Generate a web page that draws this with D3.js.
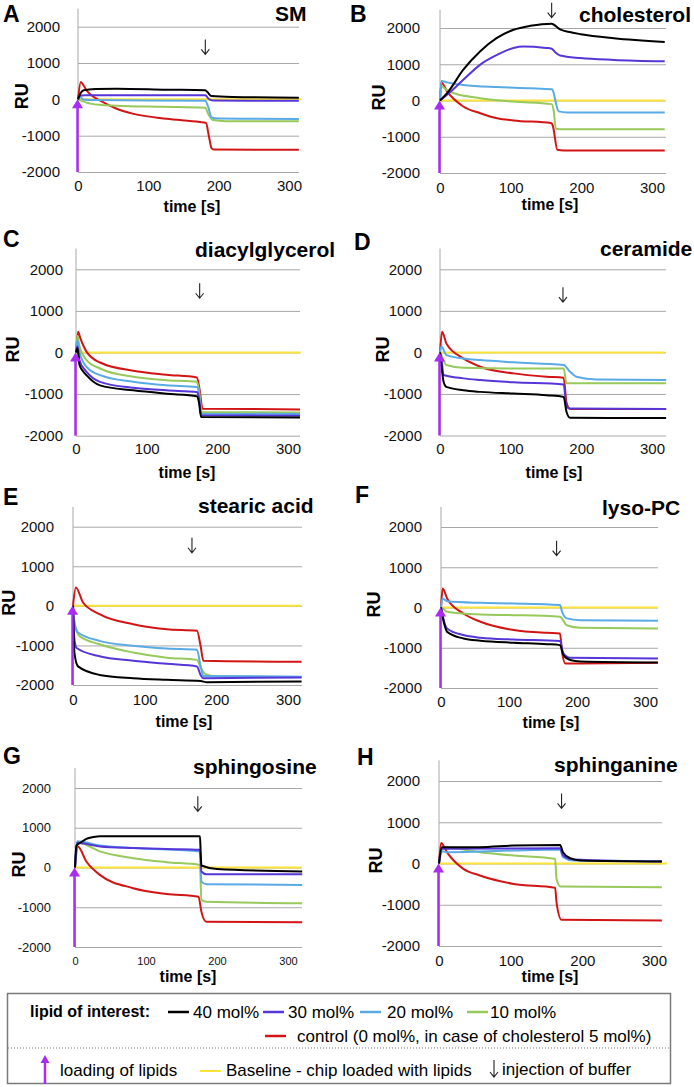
<!DOCTYPE html>
<html>
<head>
<meta charset="utf-8">
<script src="https://cdn.jsdelivr.net/npm/d3@7"></script>
<style>
  body { margin: 0; background: #fff; }
  svg text { font-family: "Liberation Sans", Arial, sans-serif; }
</style>
</head>
<body>
<svg id="chart" width="694" height="1087"></svg>
<script>
// ---- data (time [s], RU) ----
const xTicks = [0, 100, 200, 300];
const yTicks = [-2000, -1000, 0, 1000, 2000];
const panelLetters = ["A", "B", "C", "D", "E", "F", "G", "H"];
const lipidNames = ["SM", "cholesterol", "diacylglycerol", "ceramide", "stearic acid", "lyso-PC", "sphingosine", "sphinganine"];
const injectionTimes = [181, 158, 175, 174, 166, 170, 173, 171];
const injectionArrowTop = [1650, 2700, 1665, 1570, 1720, 1660, 1790, 1700];
const baselineTimes = [0, 318];
const baselineValues = [0, 0];
const seriesLabels = ["40 mol%", "30 mol%", "20 mol%", "10 mol%", "control (0 mol%, in case of cholesterol 5 mol%)"];

// A  SM
const sm40 = [[0,0],[4,180],[8,250],[25,285],[55,295],[126,267],[181,250],[184,200],[190,90],[220,65],[314,45]];
const sm30 = [[0,0],[3,100],[10,110],[181,110],[186,10],[192,-30],[314,-40]];
const sm20 = [[0,0],[3,60],[8,-5],[20,-20],[181,-40],[185,-200],[190,-500],[200,-530],[314,-540]];
const sm10 = [[0,0],[5,-40],[12,-90],[30,-150],[55,-175],[120,-205],[181,-230],[185,-400],[192,-570],[210,-600],[314,-605]];
const sm0  = [[0,0],[4,480],[8,380],[12,250],[20,100],[31,-30],[55,-260],[79,-400],[126,-535],[173,-625],[182,-650],[186,-1000],[190,-1350],[193,-1380],[314,-1390]];
// B  cholesterol
const chol40 = [[0,0],[10,200],[33,850],[57,1360],[80,1720],[104,1950],[128,2060],[158,2120],[162,2080],[170,1960],[185,1880],[199,1830],[246,1720],[318,1615]];
const chol30 = [[0,0],[10,160],[33,570],[57,990],[81,1260],[104,1450],[118,1490],[150,1450],[158,1430],[163,1330],[170,1240],[199,1170],[246,1120],[318,1080]];
const chol20 = [[0,0],[2,540],[10,500],[33,430],[81,370],[128,340],[158,310],[161,200],[163,20],[168,-300],[180,-330],[318,-330]];
const chol10 = [[0,0],[2,390],[10,280],[20,200],[57,65],[104,-30],[158,-100],[161,-300],[164,-780],[170,-790],[318,-790]];
const chol0  = [[0,0],[2,500],[10,250],[33,-165],[57,-350],[81,-490],[104,-550],[158,-625],[160,-720],[166,-1360],[175,-1380],[318,-1380]];
// C  diacylglycerol
const dag40 = [[0,0],[2,100],[5,-300],[10,-450],[15,-550],[34,-790],[81,-910],[128,-990],[171,-1050],[174,-1200],[177,-1550],[317,-1560]];
const dag30 = [[0,0],[2,150],[5,-200],[15,-465],[34,-705],[81,-850],[128,-910],[171,-950],[174,-1100],[177,-1510],[317,-1520]];
const dag20 = [[0,0],[2,300],[5,0],[15,-345],[34,-545],[81,-705],[128,-790],[171,-830],[174,-1000],[177,-1470],[317,-1480]];
const dag10 = [[0,0],[2,400],[5,150],[15,-185],[34,-385],[81,-585],[128,-665],[171,-705],[174,-900],[178,-1430],[317,-1440]];
const dag0  = [[0,0],[3,500],[6,350],[15,15],[34,-240],[81,-440],[128,-535],[171,-600],[175,-900],[179,-1350],[317,-1370]];
// D  ceramide
const cer40 = [[0,0],[2,-300],[5,-700],[9,-830],[33,-910],[57,-950],[104,-990],[151,-1030],[175,-1070],[179,-1430],[184,-1575],[320,-1580]];
const cer30 = [[0,0],[2,-145],[5,-545],[33,-625],[57,-665],[104,-720],[175,-770],[179,-1310],[184,-1350],[320,-1360]];
const cer20 = [[0,0],[2,140],[9,-65],[33,-145],[57,-185],[104,-240],[175,-305],[184,-465],[193,-585],[222,-650],[320,-665]];
const cer10 = [[0,0],[2,-65],[9,-305],[33,-370],[104,-385],[175,-385],[179,-745],[320,-745]];
const cer0  = [[0,0],[3,500],[9,215],[33,-145],[57,-345],[104,-505],[151,-585],[175,-610],[179,-1200],[184,-1360],[320,-1360]];
// E  stearic acid
const sta40 = [[0,0],[2,-1190],[7,-1530],[37,-1745],[84,-1830],[131,-1870],[178,-1900],[187,-1930],[319,-1910]];
const sta30 = [[0,0],[2,-850],[5,-1065],[37,-1275],[84,-1385],[131,-1465],[173,-1530],[178,-1745],[182,-1830],[319,-1810]];
const sta20 = [[0,0],[2,-420],[7,-675],[37,-885],[84,-1010],[131,-1080],[173,-1110],[178,-1515],[182,-1770],[319,-1790]];
const sta10 = [[0,0],[2,-420],[9,-760],[37,-970],[84,-1180],[131,-1310],[173,-1365],[178,-1560],[185,-1725],[200,-1780],[319,-1800]];
const sta0  = [[0,0],[4,465],[14,85],[37,-210],[84,-465],[131,-590],[173,-630],[178,-1010],[182,-1390],[319,-1415]];
// F  lyso-PC
const lpc40 = [[0,0],[4,-355],[9,-605],[33,-770],[58,-825],[107,-875],[156,-910],[175,-935],[180,-1180],[190,-1305],[205,-1340],[319,-1365]];
const lpc30 = [[0,0],[4,-315],[9,-520],[33,-685],[58,-750],[107,-795],[175,-835],[180,-1140],[190,-1250],[319,-1265]];
const lpc20 = [[0,0],[2,225],[9,155],[58,115],[107,100],[175,60],[178,-105],[185,-270],[205,-315],[319,-330]];
const lpc10 = [[0,0],[3,-30],[9,-105],[58,-175],[107,-190],[175,-230],[185,-440],[205,-505],[319,-520]];
const lpc0  = [[0,0],[2.5,470],[9,225],[33,-150],[58,-355],[107,-560],[156,-630],[175,-645],[178,-1100],[183,-1390],[319,-1375]];
// G  sphingosine
const sgo40 = [[0,0],[2,550],[7,615],[16,720],[26,765],[35,785],[176,785],[177,400],[178,50],[200,-35],[320,-100]];
const sgo30 = [[0,0],[3,620],[7,615],[35,530],[82,490],[129,465],[176,445],[178,-100],[185,-170],[320,-170]];
const sgo20 = [[0,0],[3,660],[7,655],[35,555],[82,490],[176,405],[178,-355],[185,-420],[320,-440]];
const sgo10 = [[0,0],[3,620],[7,615],[35,405],[82,235],[129,135],[176,65],[178,-815],[185,-860],[320,-900]];
const sgo0  = [[0,0],[4,530],[16,150],[35,-185],[82,-520],[129,-665],[174,-735],[178,-1110],[185,-1365],[320,-1380]];
// H  sphinganine
const sga40 = [[0,0],[4,395],[57,395],[104,435],[169,450],[173,275],[183,130],[197,75],[311,50]];
const sga30 = [[0,0],[4,355],[169,370],[173,195],[187,100],[311,50]];
const sga20 = [[0,0],[3,300],[11,275],[57,290],[104,315],[169,340],[173,155],[187,75],[311,55]];
const sga10 = [[0,0],[6,395],[57,275],[104,195],[162,115],[164,-370],[169,-555],[311,-575]];
const sga0  = [[0,0],[3,500],[11,275],[34,-130],[57,-290],[104,-495],[162,-590],[164,-940],[171,-1365],[311,-1380]];

// series per panel, order: 40, 30, 20, 10, control
const panelSeries = [
  [sm40, sm30, sm20, sm10, sm0],
  [chol40, chol30, chol20, chol10, chol0],
  [dag40, dag30, dag20, dag10, dag0],
  [cer40, cer30, cer20, cer10, cer0],
  [sta40, sta30, sta20, sta10, sta0],
  [lpc40, lpc30, lpc20, lpc10, lpc0],
  [sgo40, sgo30, sgo20, sgo10, sgo0],
  [sga40, sga30, sga20, sga10, sga0]
];

// ---- layout / styles ----
const colors = ["#000000", "#5636d8", "#5aaae6", "#97c95c", "#d21414"];
const yellow = "#fbe33a";
const violet = "#a92cf0";
const gridColor = "#a8a8a8";

// x0 = pixel of t=0, x300 = pixel of t=300, gx = grid end, yHi/yLo = pixel of 2000/-2000
const layout = [
  {x0:78,  x300:289, gx:299, yHi:26.7,  yLo:172,   gap:18, lx:3,   ly:22,  tx:275, ty:21,  ruX:21.5,  timeX:192, timeY:212, tickY:191, xtf:15, ytf:15},
  {x0:440, x300:652, gx:666, yHi:28,    yLo:173,   gap:20, lx:350, ly:22,  tx:579, ty:22,  ruX:378.5, timeX:550, timeY:210, tickY:193, xtf:15, ytf:15},
  {x0:76,  x300:288, gx:300, yHi:269.3, yLo:435.7, gap:13, lx:3,   ly:247, tx:195, ty:257, ruX:12.5,  timeX:187, timeY:478, tickY:454, xtf:15, ytf:15},
  {x0:440, x300:652, gx:666, yHi:269.3, yLo:435.5, gap:18, lx:354, ly:250, tx:600, ty:256, ruX:383,   timeX:554, timeY:478, tickY:454, xtf:15, ytf:15},
  {x0:73,  x300:288, gx:302, yHi:526.7, yLo:685,   gap:19, lx:3,   ly:505, tx:198, ty:513, ruX:9,     timeX:184, timeY:727, tickY:705, xtf:15, ytf:15},
  {x0:441, x300:645, gx:658, yHi:527,   yLo:688,   gap:19, lx:355, ly:503, tx:602, ty:515, ruX:373.5, timeX:551, timeY:728, tickY:707, xtf:15, ytf:15},
  {x0:75,  x300:288, gx:302, yHi:788,   yLo:947,   gap:24, lx:3,   ly:764, tx:193, ty:774, ruX:19,    timeX:188, timeY:982, tickY:965, xtf:11, ytf:13},
  {x0:439, x300:654, gx:662, yHi:781,   yLo:946,   gap:19, lx:357, ly:765, tx:554, ty:772, ruX:376,   timeX:550, timeY:982, tickY:966, xtf:15, ytf:15}
];

const svg = d3.select("#chart");

const line = d3.line()
  .curve(d3.curveMonotoneX);

layout.forEach((L, i) => {
  const x = d3.scaleLinear().domain([0, 300]).range([L.x0, L.x300]);
  const y = d3.scaleLinear().domain([-2000, 2000]).range([L.yLo, L.yHi]);
  const g = svg.append("g");

  // gridlines + y labels
  const yAxis = g.append("g")
    .attr("transform", `translate(${L.x0},0)`)
    .call(d3.axisLeft(y).tickValues(yTicks).tickFormat(d => String(d))
      .tickSize(-(L.gx - L.x0)).tickPadding(L.gap));
  yAxis.select(".domain").remove();
  yAxis.selectAll(".tick line").attr("stroke", gridColor);
  yAxis.selectAll(".tick text")
    .attr("font-family", "Liberation Sans, Arial, sans-serif")
    .attr("font-size", L.ytf).attr("fill", "#111");

  // y axis line (runs a bit above 2000)
  g.append("line")
    .attr("x1", L.x0).attr("x2", L.x0)
    .attr("y1", y(2500)).attr("y2", y(-2000))
    .attr("stroke", gridColor);

  // x labels
  const xAxis = g.append("g")
    .attr("transform", `translate(0,${L.yLo})`)
    .call(d3.axisBottom(x).tickValues(xTicks).tickFormat(d => String(d)).tickSize(0)
      .tickPadding(L.tickY - L.yLo - 0.71 * L.xtf));
  xAxis.select(".domain").remove();
  xAxis.selectAll(".tick text")
    .attr("font-family", "Liberation Sans, Arial, sans-serif")
    .attr("font-size", L.xtf).attr("fill", "#111");

  // baseline (yellow)
  g.append("path")
    .datum(baselineTimes.map((t, k) => [t, baselineValues[k]]))
    .attr("d", d3.line().x(d => x(d[0])).y(d => y(d[1])))
    .attr("fill", "none").attr("stroke", yellow).attr("stroke-width", 2);

  // series: draw control first, 40 mol% last
  const order = [4, 3, 2, 1, 0];
  order.forEach(k => {
    g.append("path")
      .datum(panelSeries[i][k])
      .attr("d", line.x(d => x(d[0])).y(d => y(d[1])))
      .attr("fill", "none")
      .attr("stroke", colors[k])
      .attr("stroke-width", 2)
      .attr("stroke-linejoin", "round");
  });

  // loading arrow (violet)
  const ax = x(0) - 0.5;
  g.append("line")
    .attr("x1", ax).attr("x2", ax)
    .attr("y1", y(-2000)).attr("y2", y(0) + 6)
    .attr("stroke", violet).attr("stroke-width", 2.5);
  g.append("path")
    .attr("d", `M${ax - 5.5},${y(0) + 9} L${ax},${y(0)} L${ax + 5.5},${y(0) + 9} Z`)
    .attr("fill", violet);

  // injection arrow
  const ix = x(injectionTimes[i]);
  const iy = y(injectionArrowTop[i]);
  g.append("path")
    .attr("d", `M${ix},${iy} L${ix},${iy + 15} M${ix - 4},${iy + 10} L${ix},${iy + 15} L${ix + 4},${iy + 10}`)
    .attr("fill", "none").attr("stroke", "#222").attr("stroke-width", 1.1);

  // texts
  g.append("text").attr("x", L.lx).attr("y", L.ly)
    .attr("font-size", 23).attr("font-weight", "bold").text(panelLetters[i]);
  g.append("text").attr("x", L.tx).attr("y", L.ty)
    .attr("font-size", 21).attr("font-weight", "bold").text(lipidNames[i]);
  g.append("text")
    .attr("transform", `translate(${L.ruX + 6},${y(0) - 3}) rotate(-90)`)
    .attr("text-anchor", "middle")
    .attr("font-size", 18).attr("font-weight", "bold").text("RU");
  g.append("text").attr("x", L.timeX).attr("y", L.timeY)
    .attr("text-anchor", "middle")
    .attr("font-size", 16).attr("font-weight", "bold").text("time [s]");
});

// ---- legend ----
const lg = svg.append("g");
lg.append("rect")
  .attr("x", 7.5).attr("y", 993.5).attr("width", 663).attr("height", 90)
  .attr("fill", "#fff").attr("stroke", "#7a7a7a").attr("stroke-width", 1.5);
lg.append("line")
  .attr("x1", 8).attr("x2", 670).attr("y1", 1048).attr("y2", 1048)
  .attr("stroke", "#777").attr("stroke-dasharray", "1,2");

lg.append("text").attr("x", 30).attr("y", 1017)
  .attr("font-size", 16).attr("font-weight", "bold").text("lipid of interest:");

const legendItems = [
  {lx: 168, tx: 193, y: 1012},
  {lx: 263, tx: 288, y: 1012},
  {lx: 360, tx: 387, y: 1012},
  {lx: 467, tx: 490, y: 1012},
  {lx: 265, tx: 297, y: 1036}
];
legendItems.forEach((it, k) => {
  lg.append("line")
    .attr("x1", it.lx).attr("x2", it.lx + 21)
    .attr("y1", it.y).attr("y2", it.y)
    .attr("stroke", colors[k]).attr("stroke-width", 2.5);
  lg.append("text").attr("x", it.tx).attr("y", it.y + 6)
    .attr("font-size", 17).text(seriesLabels[k]);
});

// bottom row
lg.append("line")
  .attr("x1", 45).attr("x2", 45).attr("y1", 1084).attr("y2", 1061)
  .attr("stroke", violet).attr("stroke-width", 2.5);
lg.append("path")
  .attr("d", "M40.5,1063 L45,1055 L49.5,1063 Z").attr("fill", violet);
lg.append("text").attr("x", 60).attr("y", 1076).attr("font-size", 17).text("loading of lipids");
lg.append("line")
  .attr("x1", 200).attr("x2", 221).attr("y1", 1071).attr("y2", 1071)
  .attr("stroke", yellow).attr("stroke-width", 2);
lg.append("text").attr("x", 226).attr("y", 1076).attr("font-size", 17).text("Baseline - chip loaded with lipids");
lg.append("path")
  .attr("d", "M494,1060 L494,1077 M490,1072 L494,1077 L498,1072")
  .attr("fill", "none").attr("stroke", "#222").attr("stroke-width", 1.1);
lg.append("text").attr("x", 502).attr("y", 1075).attr("font-size", 17).text("injection of buffer");
</script>
</body>
</html>
